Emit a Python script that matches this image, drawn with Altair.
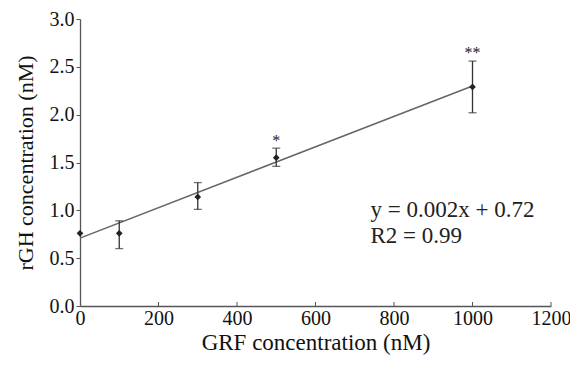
import altair as alt
import pandas as pd

# Data
grf = [0, 100, 300, 500, 1000]
rgh = [0.76, 0.76, 1.14, 1.55, 2.29]
err_lo = [0.76, 0.60, 1.01, 1.46, 2.02]
err_hi = [0.76, 0.89, 1.29, 1.65, 2.56]

fit_x = [0, 1000]
fit_y = [0.71, 2.30]

star_x = [500, 1000]
star_y = [1.72, 2.64]
star_txt = ["*", "**"]

ann_x = [740, 740]
ann_y = [0.93, 0.66]
ann_txt = ["y = 0.002x + 0.72", "R2 = 0.99"]

xticks = [0, 200, 400, 600, 800, 1000, 1200]
yticks = [0.0, 0.5, 1.0, 1.5, 2.0, 2.5, 3.0]

W, H = 471, 287
FONT = "Liberation Serif"

pts = pd.DataFrame({"x": grf, "y": rgh, "lo": err_lo, "hi": err_hi})
eb = pts[pts["lo"] < pts["hi"]]
fit = pd.DataFrame({"x": fit_x, "y": fit_y})
stars = pd.DataFrame({"x": star_x, "y": star_y, "t": star_txt})
ann = pd.DataFrame({"x": ann_x, "y": ann_y, "t": ann_txt})
xt = pd.DataFrame({"x": xticks[1:]})

xs = alt.Scale(domain=[0, 1200], nice=False)
ys = alt.Scale(domain=[0, 3], nice=False)

xaxis = alt.Axis(values=xticks, format="d", title="GRF concentration (nM)", grid=False,
                 tickSize=0, labelPadding=2, titlePadding=3, labelFlush=False,
                 titleFontSize=23)
yaxis = alt.Axis(values=yticks, format=".1f", title="rGH concentration (nM)", grid=False,
                 tickSize=4, labelPadding=2, titlePadding=12, labelFlush=False)

line = alt.Chart(fit).mark_line(color="#666666", strokeWidth=1.5).encode(
    x=alt.X("x:Q", scale=xs, axis=xaxis),
    y=alt.Y("y:Q", scale=ys, axis=yaxis),
)

bars = alt.Chart(eb).mark_rule(color="#333333", strokeWidth=1.3).encode(
    x=alt.X("x:Q", scale=xs), y=alt.Y("lo:Q", scale=ys), y2="hi:Q")
cap_lo = alt.Chart(eb).mark_tick(color="#333333", orient="horizontal", size=8, thickness=1.3).encode(
    x=alt.X("x:Q", scale=xs), y=alt.Y("lo:Q", scale=ys))
cap_hi = alt.Chart(eb).mark_tick(color="#333333", orient="horizontal", size=8, thickness=1.3).encode(
    x=alt.X("x:Q", scale=xs), y=alt.Y("hi:Q", scale=ys))

points = alt.Chart(pts).mark_point(shape="diamond", filled=True, size=45, color="#222222", opacity=1).encode(
    x=alt.X("x:Q", scale=xs), y=alt.Y("y:Q", scale=ys))

star = alt.Chart(stars).mark_text(font=FONT, fontSize=16, color="#222222", baseline="middle").encode(
    x=alt.X("x:Q", scale=xs), y=alt.Y("y:Q", scale=ys), text="t:N")

annot = alt.Chart(ann).mark_text(font=FONT, fontSize=23, color="#222222", align="left", baseline="alphabetic").encode(
    x=alt.X("x:Q", scale=xs), y=alt.Y("y:Q", scale=ys), text="t:N")

xtickmarks = alt.Chart(xt).mark_rule(color="#555555", strokeWidth=1).encode(
    x=alt.X("x:Q", scale=xs), y=alt.value(H), y2=alt.value(H - 4))

chart = alt.layer(line, bars, cap_lo, cap_hi, points, star, annot, xtickmarks).properties(
    width=W, height=H,
    background="white",
    autosize=alt.AutoSizeParams(type="none"),
    padding={"left": 72, "top": 11, "right": 19, "bottom": 56},
).configure_view(stroke=None).configure_axis(
    domainColor="#555555", domainWidth=1.3, tickColor="#555555",
    labelFont=FONT, titleFont=FONT, labelFontSize=20, titleFontSize=22,
    labelColor="#111111", titleColor="#111111", titleFontWeight="normal",
)

chart.save("out.html", embed_options={"renderer": "svg", "actions": False})
